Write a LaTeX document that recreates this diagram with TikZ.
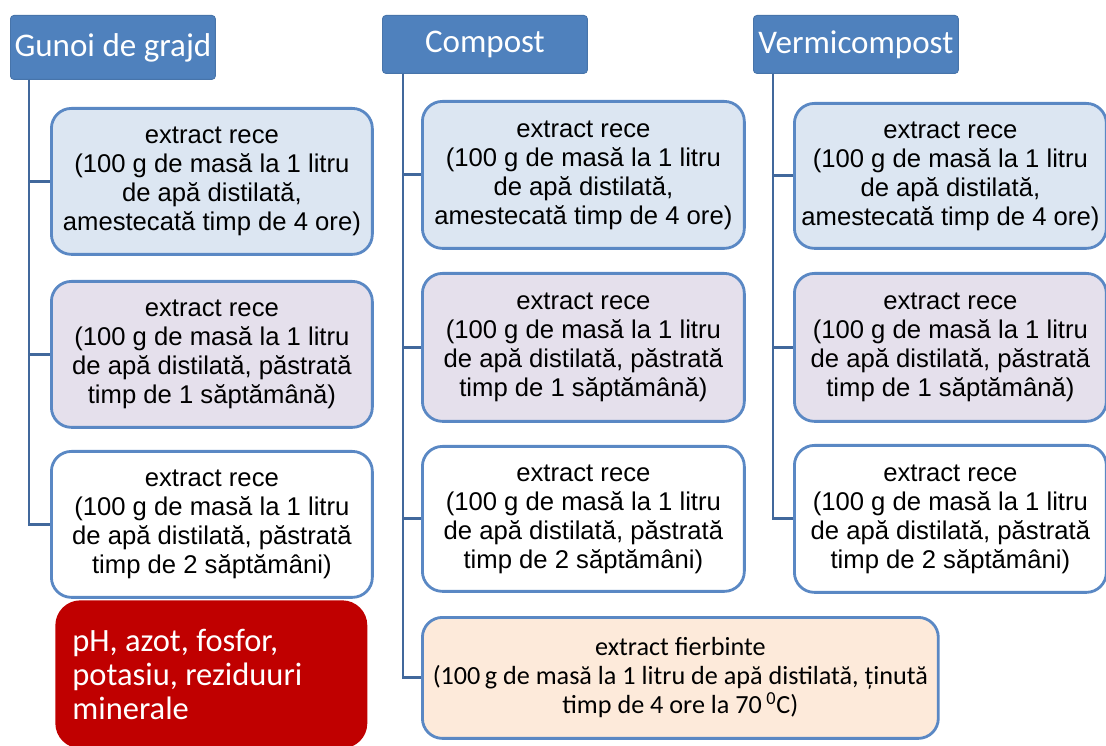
\documentclass[tikz,border=0pt]{standalone}
\usepackage{fontspec}
\setmainfont{Liberation Sans}
\newfontfamily\calibri{Carlito}
\usetikzlibrary{positioning}
\definecolor{headblue}{HTML}{4F81BD}
\definecolor{edgeblue}{HTML}{5A88C4}
\definecolor{linkblue}{HTML}{41689C}
\definecolor{paleblue}{HTML}{DCE6F2}
\definecolor{palelilac}{HTML}{E5E0EC}
\definecolor{paleorange}{HTML}{FDEADA}
\definecolor{darkred}{HTML}{C00000}

\begin{document}
\begin{tikzpicture}[x=0.02cm, y=-0.02cm,
  header/.style={rectangle, rounded corners=2pt, fill=headblue, draw=headblue!90!black, line width=0.5pt, text=white, font=\calibri\fontsize{18.8}{22}\selectfont, minimum width=4.1cm, minimum height=1.16cm, anchor=north west, inner sep=0pt},
  extbox/.style={rectangle, rounded corners=0.4cm, draw=edgeblue, line width=1.6pt, align=center, minimum width=6.42cm, minimum height=2.92cm, anchor=north west, font=\fontsize{14.6}{16.5}\selectfont, inner sep=2pt},
  link/.style={draw=linkblue, line width=1.6pt}]
\useasboundingbox (0,0) rectangle (1106,746);

% Column headers
\node[header, minimum height=1.28cm] (gunoi) at (10,15) {Gunoi de grajd};
\node[header] (compost) at (382,15) {Compost};
\node[header] (vermi) at (753,15) {Vermicompost};

% Gunoi de grajd
\node[extbox, fill=paleblue] (g1) at (50,107) {extract rece\\(100 g de masă la 1 litru\\de apă distilată,\\amestecată timp de 4 ore)};
\node[extbox, fill=palelilac] (g2) at (50,280) {extract rece\\(100 g de masă la 1 litru\\de apă distilată, păstrată\\timp de 1 săptămână)};
\node[extbox, fill=white] (g3) at (50,450) {extract rece\\(100 g de masă la 1 litru\\de apă distilată, păstrată\\timp de 2 săptămâni)};
\node[rectangle, rounded corners=0.5cm, fill=darkred, text=white, anchor=north west, minimum width=6.24cm, minimum height=2.96cm, text width=5.56cm, inner xsep=0.34cm, align=left, font=\calibri\fontsize{18.5}{19.5}\selectfont] (analize) at (55,600) {\spaceskip=0pt\xspaceskip=0pt pH, azot, fosfor,\\potasiu, reziduuri\\minerale};

% Compost
\node[extbox, fill=paleblue, minimum width=6.44cm, minimum height=2.94cm] (c1) at (421,100) {extract rece\\(100 g de masă la 1 litru\\de apă distilată,\\amestecată timp de 4 ore)};
\node[extbox, fill=palelilac, minimum width=6.44cm, minimum height=2.96cm] (c2) at (421,272) {extract rece\\(100 g de masă la 1 litru\\de apă distilată, păstrată\\timp de 1 săptămână)};
\node[extbox, fill=white, minimum width=6.44cm, minimum height=2.9cm] (c3) at (421,445) {extract rece\\(100 g de masă la 1 litru\\de apă distilată, păstrată\\timp de 2 săptămâni)};
\node[extbox, fill=paleorange, minimum width=10.32cm, minimum height=2.42cm, font=\calibri\fontsize{14.9}{16.5}\selectfont] (c4) at (421,616) {extract fierbinte\\(100\,g de masă la 1 litru de apă distilată, ținută\\timp de 4 ore la 70\,\textsuperscript{0}C)};

% Vermicompost
\node[extbox, fill=paleblue, minimum width=6.24cm, minimum height=2.9cm] (v1) at (793,102) {extract rece\\(100 g de masă la 1 litru\\de apă distilată,\\amestecată timp de 4 ore)};
\node[extbox, fill=palelilac, minimum width=6.24cm, minimum height=2.96cm] (v2) at (793,272) {extract rece\\(100 g de masă la 1 litru\\de apă distilată, păstrată\\timp de 1 săptămână)};
\node[extbox, fill=white, minimum width=6.24cm, minimum height=2.94cm] (v3) at (793,444) {extract rece\\(100 g de masă la 1 litru\\de apă distilată, păstrată\\timp de 2 săptămâni)};

% Connectors
\coordinate (gtop) at ([xshift=0.38cm]gunoi.south west);
\coordinate (ctop) at ([xshift=0.42cm]compost.south west);
\coordinate (vtop) at ([xshift=0.4cm]vermi.south west);
\draw[link] (gtop) |- (g1.west);
\draw[link] (gtop) |- (g2.west);
\draw[link] (gtop) |- (g3.west);
\draw[link] (ctop) |- (c1.west);
\draw[link] (ctop) |- (c2.west);
\draw[link] (ctop) |- (c3.west);
\draw[link] (ctop) |- (c4.west);
\draw[link] (vtop) |- (v1.west);
\draw[link] (vtop) |- (v2.west);
\draw[link] (vtop) |- (v3.west);
\end{tikzpicture}
\end{document}
